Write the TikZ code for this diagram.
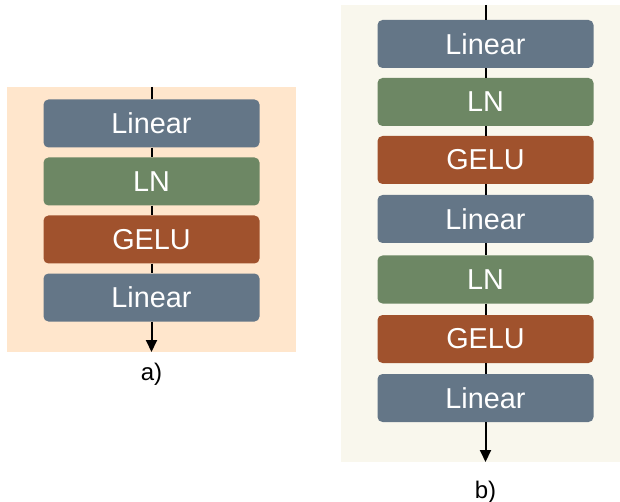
\documentclass[tikz,border=0pt]{standalone}
\usepackage{fontspec}
\setmainfont{Liberation Sans}
\usetikzlibrary{arrows.meta}

\definecolor{linfill}{HTML}{647687}
\definecolor{lnfill}{HTML}{6D8764}
\definecolor{gelufill}{HTML}{A0522D}
\definecolor{peachbg}{HTML}{FFE6CC}
\definecolor{beigebg}{HTML}{F9F7ED}

\tikzset{
  layer/.style={rounded corners=5pt, minimum width=216pt, minimum height=48pt,
    inner sep=0pt, text=white, font=\fontsize{28.8}{30}\selectfont},
  linbox/.style={layer, fill=linfill},
  lnbox/.style={layer, fill=lnfill},
  gelubox/.style={layer, fill=gelufill},
  flow/.style={draw=black, line width=2pt},
  flowend/.style={flow, -{Triangle[length=12pt,width=11pt]}},
  caption/.style={font=\fontsize{24}{26}\selectfont, text=black}
}

\begin{document}
\begin{tikzpicture}[x=1pt,y=-1pt]
  \useasboundingbox (0,0) rectangle (620,502);

  % panel backgrounds
  \fill[peachbg] (7,87) rectangle (296,352);
  \fill[beigebg] (341,5) rectangle (620,462);

  % ---- panel a ----
  \coordinate (ain) at (151.5,87);
  \coordinate (aout) at (151.5,352);
  \node[linbox]  (a1) at (151.5,123.5) {Linear};
  \node[lnbox]   (a2) at (151.5,181.5) {LN};
  \node[gelubox] (a3) at (151.5,239.5) {GELU};
  \node[linbox]  (a4) at (151.5,297.5) {Linear};
  \draw[flow] (ain) -- (a1.north);
  \draw[flow] (a1.south) -- (a2.north);
  \draw[flow] (a2.south) -- (a3.north);
  \draw[flow] (a3.south) -- (a4.north);
  \draw[flowend] (a4.south) -- (aout);
  \node[caption] (alabel) at (151.5,374) {a)};

  % ---- panel b ----
  \coordinate (bin) at (485.5,5);
  \coordinate (bout) at (485.5,462);
  \node[linbox]  (b1) at (485.5,44)  {Linear};
  \node[lnbox]   (b2) at (485.5,102) {LN};
  \node[gelubox] (b3) at (485.5,160) {GELU};
  \node[linbox]  (b4) at (485.5,219) {Linear};
  \node[lnbox]   (b5) at (485.5,279.5) {LN};
  \node[gelubox] (b6) at (485.5,339) {GELU};
  \node[linbox]  (b7) at (485.5,398) {Linear};
  \draw[flow] (bin) -- (b1.north);
  \draw[flow] (b1.south) -- (b2.north);
  \draw[flow] (b2.south) -- (b3.north);
  \draw[flow] (b3.south) -- (b4.north);
  \draw[flow] (b4.south) -- (b5.north);
  \draw[flow] (b5.south) -- (b6.north);
  \draw[flow] (b6.south) -- (b7.north);
  \draw[flowend] (b7.south) -- (bout);
  \node[caption] (blabel) at (485.5,492) {b)};
\end{tikzpicture}
\end{document}
